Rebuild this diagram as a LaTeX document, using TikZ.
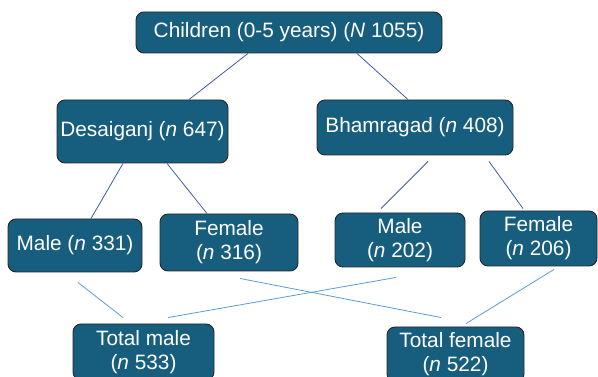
\documentclass[tikz,border=0pt]{standalone}
\usepackage{fontspec}
\setmainfont{Liberation Sans}
\definecolor{boxblue}{RGB}{23,94,126}
\definecolor{darklink}{RGB}{60,92,165}
\definecolor{lightlink}{RGB}{91,155,213}
\begin{document}
\begin{tikzpicture}[x=1pt,y=-1pt]
    \tikzstyle{block} = [rectangle,rounded corners=8pt,inner sep=0pt,align=center,draw=black!85,line width=0.9pt,fill=boxblue,text=white,font=\fontsize{20.8}{24}\selectfont]
    \tikzstyle{upper} = [darklink,line width=0.8pt]
    \tikzstyle{lower} = [lightlink,line width=0.8pt]
    \useasboundingbox (0,0) rectangle (598,377);
    \node (children)[block,minimum width=306pt,minimum height=41pt] at (289,32.5){Children (0-5 years) (\textit{N} 1055)};
    \node (desai)[block,minimum width=171pt,minimum height=63pt] at (142.5,131.5){Desaiganj (\textit{n} 647)};
    \node (bham)[block,minimum width=196pt,minimum height=55pt] at (415,127.5){Bhamragad (\textit{n} 408)};
    \node (dmale)[block,minimum width=134pt,minimum height=53pt] at (75,245.5){Male (\textit{n} 331)};
    \node (dfemale)[block,minimum width=138pt,minimum height=57pt] at (229,242.5){Female\\(\textit{n} 316)};
    \node (bmale)[block,minimum width=130pt,minimum height=54pt] at (400,240){Male\\(\textit{n} 202)};
    \node (bfemale)[block,minimum width=117pt,minimum height=55pt] at (538.5,238.5){Female\\(\textit{n} 206)};
    \node (totmale)[block,minimum width=141pt,minimum height=56pt] at (143.5,352){Total male\\(\textit{n} 533)};
    \node (totfemale)[block,minimum width=137pt,minimum height=55pt] at (455.5,354.5){Total female\\(\textit{n} 522)};
    % regions and sexes
    \draw [upper] ([xshift=-41pt]children.south) -- ([xshift=46.5pt]desai.north);
    \draw [upper] ([xshift=68pt]children.south) -- ([xshift=-7pt]bham.north);
    \draw [upper] ([xshift=-19.5pt]desai.south) -- ([xshift=16pt]dmale.north);
    \draw [upper] ([xshift=24.5pt]desai.south) -- ([xshift=-22pt]dfemale.north);
    \draw [upper] ([shift={(13pt,-6pt)}]bham.south) -- ([shift={(-19pt,4pt)}]bmale.north);
    \draw [upper] ([shift={(74pt,-6pt)}]bham.south) -- ([shift={(-15.5pt,2pt)}]bfemale.north);
    % totals
    \draw [lower] ([shift={(3pt,-10pt)}]dmale.south) -- ([shift={(-20.5pt,6pt)}]totmale.north);
    \draw [lower] ([shift={(-4pt,-10pt)}]bmale.south) -- ([shift={(24.5pt,6pt)}]totmale.north);
    \draw [lower] ([shift={(11pt,-7pt)}]dfemale.south) -- ([shift={(-14.5pt,9pt)}]totfemale.north);
    \draw [lower] ([shift={(15.5pt,-3pt)}]bfemale.south) -- ([shift={(10.5pt,3pt)}]totfemale.north);
\end{tikzpicture}
\end{document}
